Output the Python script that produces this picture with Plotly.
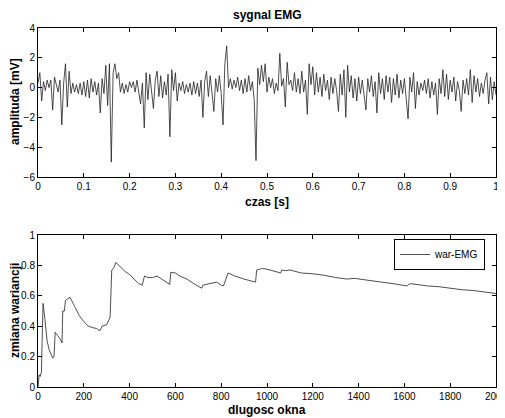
import numpy as np
import plotly.graph_objects as go
from plotly.subplots import make_subplots

emg_values = [
    0.3, 1.0, -0.9, 0.4, -0.2, 0.5, 0.0, 0.5, -1.5, 0.7,
    0.2, -0.3, 0.5, -2.5, 0.3, 1.6, -1.3, 1.1, -0.4, 0.3,
    -0.3, 0.2, -0.4, 0.3, -0.5, 0.4, -0.6, 0.5, -0.7, 0.6,
    -0.3, 0.4, -0.5, 0.3, -1.7, 0.6, -0.4, 1.5, -1.2, 1.6,
    -5.0, 1.0, 1.6, 0.6, 1.0, -0.3, 0.3, -0.4, 0.2, -0.3,
    0.4, 0.0, 0.4, -0.3, 0.5, -0.5, -1.1, 0.3, -2.7, 1.0,
    -0.8, 0.9, -0.4, -1.4, 0.5, 1.1, -0.6, 0.8, -0.7, 0.4,
    -0.5, 0.9, -3.3, 1.2, -0.2, 1.0, -0.9, 0.3, -0.2, 0.4,
    -0.4, 0.2, -0.3, 0.3, -0.5, 0.4, -0.4, 0.3, -0.6, 0.5,
    -2.0, 0.4, 1.1, -0.6, 0.8, -0.2, -1.6, 0.6, -0.3, 0.8,
    -0.4, -2.5, 1.6, 2.8, 0.0, 0.6, -0.1, 0.5, 0.0, 0.7,
    -0.2, 0.5, -0.4, 0.6, -0.3, 0.8, -0.2, 0.4, -0.8, -4.9,
    1.3, 0.2, 1.5, 0.4, 1.6, -0.3, 0.7, 0.0, 0.6, -0.4,
    0.3, -0.2, 2.3, 0.1, 0.6, -1.3, 1.7, 0.2, 0.5, -0.2,
    1.0, -0.3, 0.6, -0.4, 1.1, -0.3, 0.5, -1.8, 1.6, 0.2,
    1.4, -0.5, 1.0, -0.3, 0.7, -0.6, 0.9, -0.2, 0.5, -0.8,
    0.7, -0.4, 0.6, -0.2, -1.6, 0.9, -0.5, 1.2, -2.0, 1.5,
    -0.3, 0.8, -0.7, 0.6, -0.9, 0.7, -0.4, 0.5, -0.6, -1.5,
    0.6, -0.3, 0.8, -0.6, 0.4, -1.7, 1.0, -0.4, 0.6, -0.8,
    0.8, -0.3, 0.7, -1.0, 0.6, -0.5, 0.9, -0.7, 0.5, -0.4,
    0.6, -0.6, -2.1, 0.7, -0.3, 1.0, -1.4, 0.4, -0.5, 0.3,
    -0.2, 0.5, -0.4, 0.6, -0.7, 0.4, -0.5, 0.3, -1.8, 0.6,
    -0.4, 1.2, -0.6, 0.9, -0.8, 0.5, -0.3, 0.7, -0.9, 0.4,
    -0.2, -1.6, 0.5, -0.4, 0.6, -0.5, 1.2, -1.0, 0.8, -0.3,
    0.6, -0.6, 0.3, -0.4, 0.5, 1.0, -1.1, 0.7, -0.8, 0.4,
    -0.5,
]
emg_time = [i * 0.004 for i in range(len(emg_values))]

# --- bottom: variance change vs window length ---
win_len = [0, 5, 10, 15, 18, 22, 30, 40, 50, 60, 65, 70, 75, 85, 95, 105, 108,
           115, 120, 130, 140, 160, 180, 200, 220, 240, 255, 270, 280, 300, 315,
           322, 330, 340, 360, 380, 400, 420, 440, 455, 465, 480, 500, 520, 540,
           560, 575, 580, 600, 620, 650, 680, 715, 720, 760, 780, 800, 810, 830,
           860, 900, 950, 955, 980, 1000, 1040, 1060, 1065, 1080, 1100, 1150,
           1200, 1250, 1300, 1350, 1380, 1400, 1450, 1500, 1550, 1600, 1610,
           1625, 1650, 1700, 1750, 1800, 1850, 1900, 1950, 2000]
war_emg = [0.0, 0.08, 0.07, 0.1, 0.3, 0.55, 0.45, 0.3, 0.24, 0.2, 0.19, 0.2,
           0.36, 0.34, 0.32, 0.29, 0.5, 0.5, 0.57, 0.58, 0.59, 0.53, 0.47, 0.43,
           0.4, 0.39, 0.385, 0.37, 0.4, 0.41, 0.46, 0.77, 0.78, 0.82, 0.79, 0.76,
           0.74, 0.71, 0.68, 0.67, 0.73, 0.72, 0.72, 0.73, 0.71, 0.69, 0.675,
           0.755, 0.75, 0.73, 0.71, 0.68, 0.65, 0.67, 0.68, 0.69, 0.67, 0.665,
           0.75, 0.73, 0.71, 0.69, 0.77, 0.78, 0.775, 0.76, 0.75, 0.77, 0.765,
           0.77, 0.75, 0.745, 0.735, 0.72, 0.71, 0.715, 0.71, 0.70, 0.69, 0.68,
           0.67, 0.665, 0.68, 0.675, 0.665, 0.66, 0.65, 0.64, 0.635, 0.625, 0.615]

top_xticks = [0, 0.1, 0.2, 0.3, 0.4, 0.5, 0.6, 0.7, 0.8, 0.9, 1]
top_xtick_text = ["0", "0.1", "0.2", "0.3", "0.4", "0.5", "0.6", "0.7", "0.8", "0.9", "1"]
top_yticks = [-6, -4, -2, 0, 2, 4]
bot_xticks = [0, 200, 400, 600, 800, 1000, 1200, 1400, 1600, 1800, 2000]
bot_yticks = [0, 0.2, 0.4, 0.6, 0.8, 1]
bot_ytick_text = ["0", "0.2", "0.4", "0.6", "0.8", "1"]

# page is rendered with an 8px body margin; compensate so the picture matches
OFF = 8
PW, PH = 505, 418                 # page size
W, H = PW - OFF, PH - OFF         # figure size
L_PIX, R_PIX, T_PIX, B_PIX = 38, 496, 28, 387   # plot area in page pixels
ML, MR, MT, MB = L_PIX - OFF, PW - R_PIX, T_PIX - OFF, PH - B_PIX
ph = H - MT - MB
pw = W - ML - MR

def py(pix):
    return (B_PIX - pix) / ph

def px(pix):
    return (pix - L_PIX) / pw

fig = make_subplots(rows=2, cols=1, vertical_spacing=0.0)
fig.add_trace(go.Scatter(x=emg_time, y=emg_values, mode="lines",
                         line=dict(color="#222222", width=0.8), showlegend=False),
              row=1, col=1)
fig.add_trace(go.Scatter(x=win_len, y=war_emg, mode="lines", name="war-EMG",
                         line=dict(color="#222222", width=0.8), showlegend=True),
              row=2, col=1)

font_tick = dict(family="Liberation Sans, Arial, sans-serif", size=10, color="black")
axis_common = dict(showline=True, linecolor="black", linewidth=1, mirror="ticks",
                   ticks="inside", ticklen=4, tickcolor="black", showgrid=False,
                   zeroline=False, tickfont=font_tick, automargin=False,
                   ticklabeloverflow="allow")

fig.update_xaxes(range=[0, 1], tickvals=top_xticks, ticktext=top_xtick_text,
                 domain=[0, 1], row=1, col=1, **axis_common)
fig.update_yaxes(range=[-6, 4], tickvals=top_yticks, row=1, col=1, **axis_common)
fig.update_xaxes(range=[0, 2000], tickvals=bot_xticks, row=2, col=1, **axis_common)
fig.update_yaxes(range=[0, 1], tickvals=bot_yticks, ticktext=bot_ytick_text,
                 row=2, col=1, **axis_common)
fig.update_layout(yaxis=dict(domain=[py(177), 1]), yaxis2=dict(domain=[0, py(235)]))

lab_font = dict(family="Liberation Sans, Arial, sans-serif", size=12, color="black")
annots = [
    dict(text="<b>sygnal EMG</b>", x=px(267), y=py(15), xref="paper", yref="paper",
         showarrow=False, font=lab_font, xanchor="center", yanchor="middle"),
    dict(text="<b>czas [s]</b>", x=px(267), y=py(202), xref="paper", yref="paper",
         showarrow=False, font=lab_font, xanchor="center", yanchor="middle"),
    dict(text="<b>dlugosc okna</b>", x=px(267), y=py(410), xref="paper", yref="paper",
         showarrow=False, font=lab_font, xanchor="center", yanchor="middle"),
    dict(text="<b>amplituda [mV]</b>", x=px(15), y=py(102),
         xref="paper", yref="paper", showarrow=False, font=lab_font, textangle=-90,
         xanchor="center", yanchor="middle"),
    dict(text="<b>zmiana wariancji</b>", x=px(15), y=py(311),
         xref="paper", yref="paper", showarrow=False, font=lab_font, textangle=-90,
         xanchor="center", yanchor="middle"),
]

fig.update_layout(
    width=W, height=H,
    margin=dict(l=ML, r=MR, t=MT, b=MB, autoexpand=False),
    paper_bgcolor="white", plot_bgcolor="white",
    annotations=annots,
    legend=dict(x=px(485), y=py(239), xanchor="right", yanchor="top",
                bordercolor="black", borderwidth=1, bgcolor="white",
                font=dict(family="Liberation Sans, Arial, sans-serif", size=10, color="black"),
                itemwidth=30, tracegroupgap=0),
)

fig.write_html("out.html")
